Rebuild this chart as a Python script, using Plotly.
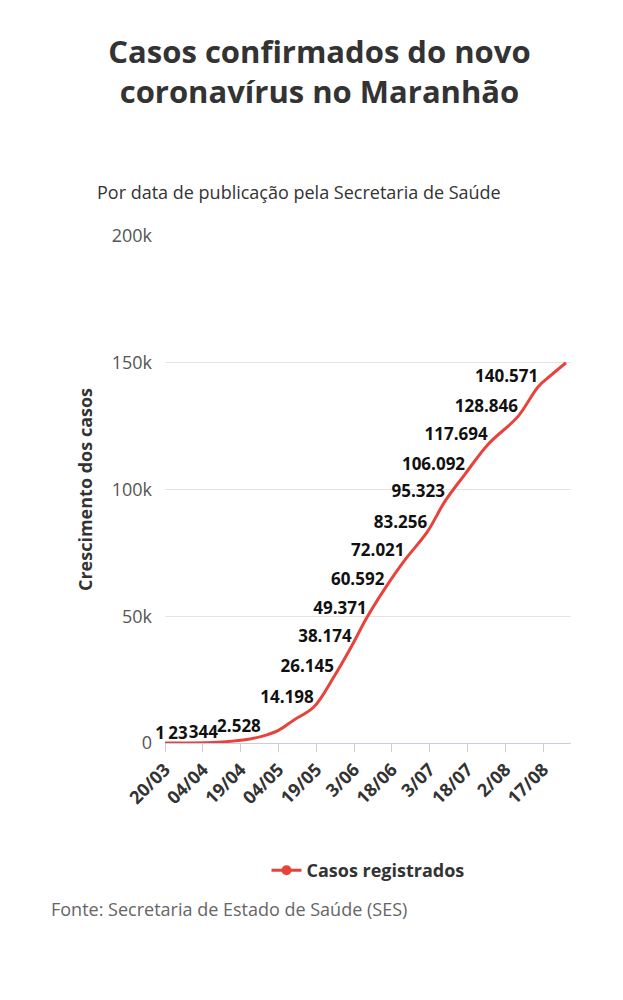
import pandas as pd
import plotly.graph_objects as go

dates = ["2020-03-20", "2020-03-29", "2020-04-10", "2020-04-20", "2020-04-27", "2020-05-04",
         "2020-05-10", "2020-05-18", "2020-05-26", "2020-06-02", "2020-06-08", "2020-06-15",
         "2020-06-23", "2020-07-02", "2020-07-09", "2020-07-17", "2020-07-26", "2020-08-07",
         "2020-08-15", "2020-08-20", "2020-08-26"]
cases = [1, 23, 344, 1200, 2528, 5000, 9000, 14198, 26145, 38174, 49371, 60592,
         72021, 83256, 95323, 106092, 117694, 128846, 140571, 145000, 150000]
labels = ["1", "23", "344", "", "2.528", "", "", "14.198", "26.145", "38.174", "49.371", "60.592",
          "72.021", "83.256", "95.323", "106.092", "117.694", "128.846", "140.571", "", ""]

tick_dates = ["2020-03-20", "2020-04-04", "2020-04-19", "2020-05-04", "2020-05-19", "2020-06-03",
              "2020-06-18", "2020-07-03", "2020-07-18", "2020-08-02", "2020-08-17"]
tick_text = ["20/03", "04/04", "19/04", "04/05", "19/05", "3/06", "18/06", "3/07", "18/07", "2/08", "17/08"]

red = "#e8433a"
font = "Open Sans"

fig = go.Figure()
fig.add_trace(go.Scatter(x=dates, y=cases, mode="lines", line=dict(color=red, width=3, shape="spline"),
                         showlegend=False))
fig.add_trace(go.Scatter(x=dates, y=cases, mode="text", text=labels, textposition="top left",
                         textfont=dict(size=17, color="#111", family=font, weight="bold"),
                         showlegend=False, cliponaxis=False))
fig.add_trace(go.Scatter(x=[None], y=[None], mode="lines+markers", name="Casos registrados",
                         line=dict(color=red, width=3), marker=dict(size=10, color=red)))

fig.update_layout(
    width=623, height=1000, paper_bgcolor="white", plot_bgcolor="white",
    margin=dict(l=157, r=60, t=228, b=265, autoexpand=False),
    font=dict(family=font, color="#333"),
    title=dict(text="<b>Casos confirmados do novo<br>coronavírus no Maranhão</b>",
               x=0.5, xanchor="center", y=0.945, yanchor="top",
               font=dict(size=31, color="#333")),
    legend=dict(orientation="h", x=0.5, xanchor="center", y=-0.215, yanchor="top",
                font=dict(size=18, color="#333", weight="bold")),
    annotations=[
        dict(text="Por data de publicação pela Secretaria de Saúde", xref="paper", yref="paper",
             x=0.33, y=1.115, xanchor="center", showarrow=False, font=dict(size=18, color="#333")),
        dict(text="Fonte: Secretaria de Estado de Saúde (SES)", xref="paper", yref="paper",
             x=-0.285, xanchor="left", y=-0.355, showarrow=False, font=dict(size=18, color="#666")),
    ],
)
fig.update_xaxes(range=["2020-03-20", "2020-08-28"], tickvals=tick_dates, ticktext=tick_text,
                 tickangle=-45, tickfont=dict(size=18, color="#333", weight="bold"),
                 showgrid=False, showline=True, linecolor="#c9cde0", ticks="outside",
                 tickcolor="#c9cde0", ticklen=8)
fig.update_yaxes(range=[0, 200000], tickvals=[0, 50000, 100000, 150000, 200000],
                 ticktext=["0", "50k", "100k", "150k", "200k"], gridcolor="#e3e3e3",
                 tickfont=dict(size=18, color="#555"), zeroline=False, ticklabelstandoff=12,
                 title=dict(text="<b>Crescimento dos casos</b>", font=dict(size=18, color="#333"),
                            standoff=14))

fig.write_html("out.html")
